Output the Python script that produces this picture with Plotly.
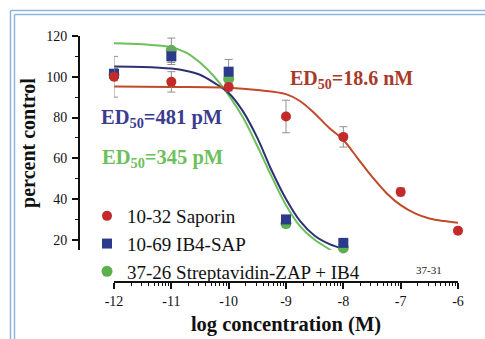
import numpy as np
import plotly.graph_objects as go

# ---------------- data ----------------
dose_sap = [-12, -11, -10, -9, -8, -7, -6]
resp_sap = [100, 97.5, 95, 80.5, 70.5, 43.5, 24.5]
err_sap = [10, 5, 2, 8, 5, 2, 1]

dose_ib4 = [-12, -11, -10, -9, -8]
resp_ib4 = [101.5, 110, 102.5, 30, 18.5]
err_ib4 = [3, 4, 6, 2, 2]

dose_sz = [-12, -11, -10, -9, -8]
resp_sz = [101, 113, 99, 28, 16]
err_sz = [3, 6, 3, 2, 2]

# fitted curves
fit_x_sap = [-12, -11, -10, -9.5, -9, -8.75, -8.5, -8.25, -8, -7.75, -7.5, -7.25, -7, -6.75, -6.5, -6.25, -6]
fit_y_sap = [95.2, 95, 94.6, 93.5, 91.5, 88, 82, 75, 69, 60, 51, 43, 37, 33, 30.5, 29.2, 28.4]

fit_x_ib4 = [-12, -11.5, -11, -10.75, -10.5, -10.25, -10, -9.75, -9.5, -9.25, -9, -8.75, -8.5, -8.25, -8]
fit_y_ib4 = [105, 104.8, 104, 103, 101, 97, 92, 83, 70, 54, 40, 29, 22, 18, 15.5]

fit_x_sz = [-12, -11.5, -11, -10.75, -10.5, -10.25, -10, -9.75, -9.5, -9.25, -9, -8.75, -8.5, -8.25, -8.1]
fit_y_sz = [116.5, 116, 114.5, 112, 107, 100, 91, 80, 66, 51, 37, 26.5, 20, 15.5, 13]

x_ticks = [-12, -11, -10, -9, -8, -7, -6]
x_ticktext = ["-12", "-11", "-10", "-9", "-8", "-7", "-6"]
y_ticks = [20, 40, 60, 80, 100, 120]

names = ["10-32 Saporin", "10-69 IB4-SAP", "37-26 Streptavidin-ZAP + IB4"]

RED = "#c42a2a"
BLUE = "#2c3a8c"
GREEN = "#5cb04e"
SERIF = "Liberation Serif"

fig = go.Figure()

# curves
fig.add_trace(go.Scatter(x=fit_x_sz, y=fit_y_sz, mode="lines", line=dict(color="#6cc05c", width=2, shape="spline"),
                         showlegend=False, hoverinfo="skip"))
fig.add_trace(go.Scatter(x=fit_x_ib4, y=fit_y_ib4, mode="lines", line=dict(color="#2d3170", width=2, shape="spline"),
                         showlegend=False, hoverinfo="skip"))
fig.add_trace(go.Scatter(x=fit_x_sap, y=fit_y_sap, mode="lines", line=dict(color="#c04a2a", width=2, shape="spline"),
                         showlegend=False, hoverinfo="skip"))

# points
errstyle = dict(type="data", thickness=1, width=4, color="#909090")
fig.add_trace(go.Scatter(x=dose_sz, y=resp_sz, mode="markers", name=names[2],
                         marker=dict(symbol="circle", size=11, color=GREEN),
                         error_y=dict(array=err_sz, **errstyle), cliponaxis=False))
fig.add_trace(go.Scatter(x=dose_ib4, y=resp_ib4, mode="markers", name=names[1],
                         marker=dict(symbol="square", size=10, color=BLUE),
                         error_y=dict(array=err_ib4, **errstyle), cliponaxis=False))
fig.add_trace(go.Scatter(x=dose_sap, y=resp_sap, mode="markers", name=names[0],
                         marker=dict(symbol="circle", size=10, color=RED),
                         error_y=dict(array=err_sap, **errstyle), cliponaxis=False))

W, H = 485, 339
L, R, T, B = 79, 25, 36, 57
pw, ph = W - L - R, H - T - B


def px(xp):
    return (xp - L) / pw


def py(yp):
    return (H - B - yp) / ph


minor_x = [d + np.log10(k) for d in range(-12, -6) for k in range(2, 10)]

fig.update_layout(
    width=W, height=H,
    margin=dict(l=L, r=R, t=T, b=B, autoexpand=False),
    paper_bgcolor="white", plot_bgcolor="white",
    font=dict(family=SERIF, color="#111"),
    xaxis=dict(range=[-12, -6], domain=[px(114), px(458)], anchor="free", position=0, automargin=False,
               tickvals=x_ticks, ticktext=x_ticktext, ticks="outside", ticklen=6, tickwidth=1.5,
               tickcolor="#111", showline=True, linecolor="#111", linewidth=1.5,
               showgrid=False, zeroline=False, tickfont=dict(size=14, family=SERIF, color="#111"),
               minor=dict(tickvals=minor_x, ticks="outside", ticklen=3, tickwidth=1, tickcolor="#111"),
               title=dict(text="<b>log concentration (M)</b>", font=dict(size=20.5, family=SERIF), standoff=8)),
    yaxis=dict(range=[15, 120], domain=[py(250), 1], anchor="free", position=0, automargin=False,
               tickvals=y_ticks, ticks="outside", ticklen=6, tickwidth=1.5, tickcolor="#111",
               showline=True, linecolor="#111", linewidth=2, showgrid=False, zeroline=False,
               tickfont=dict(size=14, family=SERIF, color="#111"), ticklabelstandoff=2,
               minor=dict(dtick=10, ticks="outside", ticklen=3, tickwidth=1, tickcolor="#111"),
               title=dict(text="<b>percent control</b>", font=dict(size=20, family=SERIF), standoff=4)),
    legend=dict(x=px(87), y=py(197), xanchor="left", yanchor="top", traceorder="reversed",
                bgcolor="rgba(0,0,0,0)", font=dict(size=19, family=SERIF, color="#111"),
                tracegroupgap=0),
    showlegend=True,
)

fig.add_annotation(x=px(288), y=py(79), xref="paper", yref="paper", xanchor="left", yanchor="middle",
                   text="<b>ED<sub>50</sub>=18.6 nM</b>", showarrow=False,
                   font=dict(size=20, family=SERIF, color="#a83a2a"))
fig.add_annotation(x=px(99), y=py(118), xref="paper", yref="paper", xanchor="left", yanchor="middle",
                   text="<b>ED<sub>50</sub>=481 pM</b>", showarrow=False,
                   font=dict(size=20.5, family=SERIF, color="#3b3b8f"))
fig.add_annotation(x=px(100), y=py(158), xref="paper", yref="paper", xanchor="left", yanchor="middle",
                   text="<b>ED<sub>50</sub>=345 pM</b>", showarrow=False,
                   font=dict(size=20.5, family=SERIF, color="#6cc05c"))
fig.add_annotation(x=px(429), y=py(270), xref="paper", yref="paper", xanchor="center", yanchor="middle",
                   text="37-31", showarrow=False, font=dict(size=11, family=SERIF, color="#222"))

# decorative frame (top & left double line)
frame = "#8fb6dc"
for off in (10.5, 14.5):
    fig.add_shape(type="line", xref="paper", yref="paper", x0=px(off), x1=px(W + 5), y0=py(off), y1=py(off),
                  line=dict(color=frame, width=1.5))
    fig.add_shape(type="line", xref="paper", yref="paper", x0=px(off), x1=px(off), y0=py(off), y1=py(H + 5),
                  line=dict(color=frame, width=1.5))

fig.write_html("out.html", config={"displayModeBar": False},
               post_script="document.body.style.margin='0';document.body.style.padding='0';")
